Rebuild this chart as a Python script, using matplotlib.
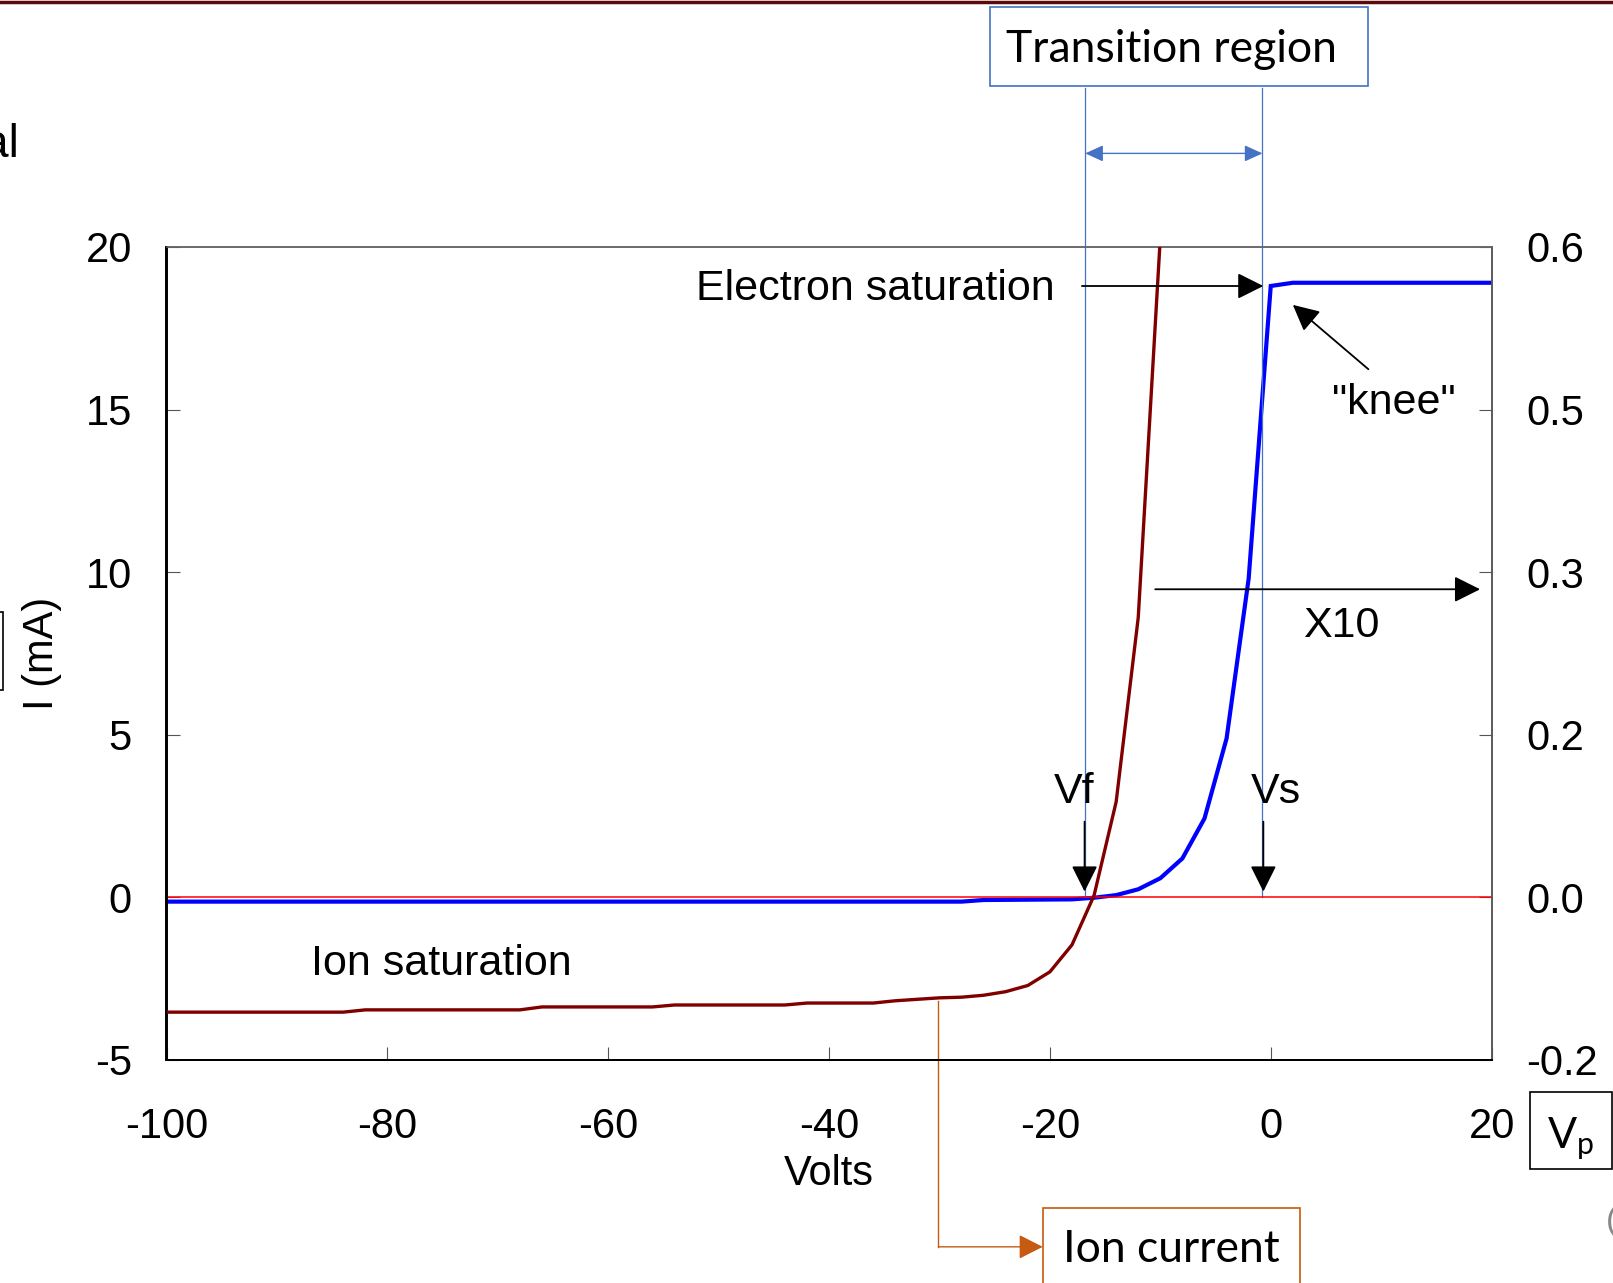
import matplotlib
matplotlib.use("Agg")
import matplotlib.pyplot as plt
from matplotlib.patches import Rectangle
from matplotlib.lines import Line2D

W, H = 1613, 1283

# probe sweep, ion branch (mA, left axis)
volts_ion = [-100, -84, -82, -68, -66, -56, -54, -44, -42, -36, -34, -30, -28,
             -26, -24, -22, -20, -18, -16, -14, -12, -10]
ion_ma = [-3.54, -3.54, -3.47, -3.47, -3.38, -3.38, -3.32, -3.32, -3.26, -3.26,
          -3.19, -3.10, -3.08, -3.02, -2.91, -2.72, -2.30, -1.47, 0.05, 2.93,
          8.6, 20.3]

# electron branch (right axis)
volts_e = [-100, -28, -26, -18, -16, -14, -12, -10, -8, -6, -4, -2, 0, 2, 20]
elec = [-0.0042, -0.0042, -0.0027, -0.0021, -0.0006, 0.0018, 0.0072, 0.0174,
        0.0357, 0.0726, 0.1464, 0.294, 0.564, 0.567, 0.567]

x_ticks = [-100, -80, -60, -40, -20, 0, 20]
y_ticks = [-5, 0, 5, 10, 15, 20]
r_ticks = [-0.15, 0, 0.15, 0.3, 0.45, 0.6]
r_labels = ["-0.2", "0.0", "0.2", "0.3", "0.5", "0.6"]

v_float = -16.8
v_space = -0.75

OFFICE_BLUE = "#4472C4"
OFFICE_ORANGE = "#C55A11"
CAL = ["Lato", "DejaVu Sans"]

plt.rcParams["font.family"] = ["Liberation Sans", "DejaVu Sans"]
plt.rcParams["axes.unicode_minus"] = False


def px(x, y):
    # pixel position -> figure fraction
    return x / W, 1 - y / H


fig = plt.figure(figsize=(W / 100, H / 100), dpi=100)
ax = fig.add_axes([166.5 / W, 1 - 1059.6 / H, 1325.1 / W, 812.6 / H])
ax2 = ax.twinx()
ax.set_zorder(ax2.get_zorder() + 1)
ax.patch.set_visible(False)

ax.set_xlim(-100, 20)
ax.set_ylim(-5, 20)
ax2.set_ylim(-0.15, 0.6)

ax2.plot(volts_e, elec, color="#0000ff", lw=3.0, solid_joinstyle="miter")
ax.axhline(0, color="#ff0000", lw=1.3, alpha=0.85, zorder=2)
ax.plot(volts_ion, ion_ma, color="#800000", lw=2.4, zorder=3)

ax.set_xticks(x_ticks)
ax.set_yticks(y_ticks)
ax2.set_yticks(r_ticks)
ax2.set_yticklabels(r_labels)
ax.tick_params(axis="x", direction="in", length=9.5, width=0.8, color="#555555",
               labelsize=30, pad=34)
ax.tick_params(axis="y", direction="in", length=9.5, width=0.8, color="#555555",
               labelsize=30, pad=25)
ax2.tick_params(axis="y", direction="in", length=9.5, width=0.8, color="#555555",
                labelsize=30, pad=25)

for a in (ax, ax2):
    a.spines["top"].set_color("#666666")
    a.spines["top"].set_linewidth(1.1)
    a.spines["right"].set_color("#555555")
    a.spines["right"].set_linewidth(1.1)
    a.spines["left"].set_linewidth(1.4)
    a.spines["bottom"].set_linewidth(1.4)

ax.set_xlabel("Volts", fontsize=30, labelpad=5)
ax.set_ylabel("I (mA)", fontsize=30, labelpad=17)

# Vf / Vs markers and transition bracket
for v in (v_float, v_space):
    ax.plot([v, v], [0, 24.9], color=OFFICE_BLUE, lw=0.9, clip_on=False, zorder=1)
ax.annotate("", xy=(v_float, 22.88), xytext=(v_space, 22.88),
            arrowprops=dict(arrowstyle="<|-|>,head_length=0.55,head_width=0.25",
                            mutation_scale=20, color=OFFICE_BLUE, lw=1.0,
                            shrinkA=0, shrinkB=0),
            annotation_clip=False)

arrow_kw = dict(arrowstyle="-|>,head_length=0.8,head_width=0.4",
                mutation_scale=20, color="black", lw=1.3, shrinkA=0, shrinkB=0)

ax.annotate("", xy=(-16.86, 0.17), xytext=(-16.86, 2.32), arrowprops=arrow_kw)
ax.annotate("", xy=(-0.67, 0.17), xytext=(-0.67, 2.32), arrowprops=arrow_kw)
ax.text(-17.8, 3.22, "Vf", fontsize=31, ha="center", va="center")
ax.text(0.44, 3.22, "Vs", fontsize=31, ha="center", va="center")

ax.annotate("", xy=(-0.67, 18.8), xytext=(-17.1, 18.8), arrowprops=arrow_kw)
ax.text(-19.6, 18.7, "Electron saturation", fontsize=31, ha="right", va="center")

ax.annotate("", xy=(2.0, 18.22), xytext=(8.84, 16.24), arrowprops=arrow_kw)
ax.text(11.1, 15.2, '"knee"', fontsize=31, ha="center", va="center")

ax.annotate("", xy=(18.96, 9.47), xytext=(-10.46, 9.47), arrowprops=arrow_kw)
ax.text(6.4, 8.35, "X10", fontsize=31, ha="center", va="center")

ax.text(-86.9, -2.05, "Ion saturation", fontsize=31, ha="left", va="center")

# ion current callout
ax.plot([-30.1, -30.1], [-3.2, -10.76], color=OFFICE_ORANGE, lw=1.0,
        clip_on=False)
ax.annotate("", xy=(-20.65, -10.76), xytext=(-30.1, -10.76),
            arrowprops=dict(arrowstyle="-|>,head_length=0.75,head_width=0.38",
                            mutation_scale=20, color=OFFICE_ORANGE, lw=1.0,
                            shrinkA=0, shrinkB=0),
            annotation_clip=False)

# boxes around the page edge
x0, y0 = px(990, 86)
x1, y1 = px(1368, 7)
fig.add_artist(Rectangle((x0, y0), x1 - x0, y1 - y0, transform=fig.transFigure,
                         fill=False, edgecolor=OFFICE_BLUE, lw=1.2))
fig.text(*px(1171.5, 61.7), "Transition region", fontsize=32, family=CAL,
         ha="center", va="baseline")

x0, y0 = px(1043, 1295)
x1, y1 = px(1300, 1208)
fig.add_artist(Rectangle((x0, y0), x1 - x0, y1 - y0, transform=fig.transFigure,
                         fill=False, edgecolor=OFFICE_ORANGE, lw=1.2))
fig.text(*px(1171.5, 1261.7), "Ion current", fontsize=32, family=CAL,
         ha="center", va="baseline")

x0, y0 = px(1530, 1169)
x1, y1 = px(1612, 1092)
fig.add_artist(Rectangle((x0, y0), x1 - x0, y1 - y0, transform=fig.transFigure,
                         fill=False, edgecolor="black", lw=1.2))
fig.text(*px(1571, 1148), r"V$_\mathregular{p}$", fontsize=31, family=CAL,
         ha="center", va="baseline")

x0, y0 = px(-60, 690)
x1, y1 = px(3, 612)
fig.add_artist(Rectangle((x0, y0), x1 - x0, y1 - y0, transform=fig.transFigure,
                         fill=False, edgecolor="black", lw=1.2))

fig.text(*px(19, 157), "al", fontsize=33, ha="right", va="baseline")
fig.text(*px(1606, 1230), "(", fontsize=24, color="#888888", ha="left",
         va="baseline")

fig.add_artist(Line2D([0, 1], [1 - 1.5 / H, 1 - 1.5 / H], transform=fig.transFigure,
                      color="#5a0a0a", lw=2.5))

fig.savefig("out.png", dpi=100)
